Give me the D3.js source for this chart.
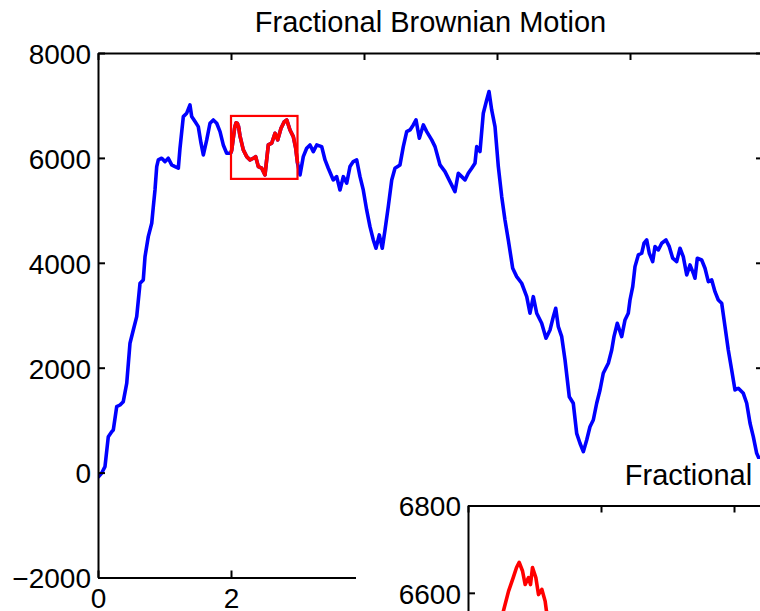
<!DOCTYPE html>
<html>
<head>
<meta charset="utf-8">
<script src="https://cdn.jsdelivr.net/npm/d3@7"></script>
<style>
  html, body { margin: 0; padding: 0; background: #fff; }
  svg { display: block; font-family: "Liberation Sans", Arial, Helvetica, sans-serif; }
  .axis path, .axis line { stroke: #000; stroke-width: 2; }
  .axis text { font-size: 28px; fill: #000; font-family: "Liberation Sans", Arial, sans-serif; }
</style>
</head>
<body>
<svg id="fig" width="760" height="611"></svg>
<script>
// Sample path of fractional Brownian motion, split into three stretches
// around the window [2, 3] that is magnified in the inset.
const leadTime  = [0.000, 0.056, 0.105, 0.155, 0.206, 0.230, 0.281, 0.331, 0.380, 0.432, 0.481, 0.531, 0.582, 0.632, 0.681, 0.707, 0.756, 0.808, 0.832, 0.857, 0.883, 0.907, 0.958, 1.008, 1.057, 1.108, 1.158, 1.208, 1.233, 1.283, 1.334, 1.383, 1.409, 1.459, 1.508, 1.549, 1.584, 1.635, 1.684, 1.734, 1.785, 1.835, 1.884, 1.935, 1.985];
const leadValue = [-90, -8, 113, 685, 780, 812, 1257, 1289, 1352, 1703, 2466, 2719, 2973, 3610, 3673, 4117, 4499, 4754, 5071, 5389, 5834, 5961, 5994, 5929, 5994, 5866, 5833, 5803, 6184, 6787, 6852, 7010, 6787, 6692, 6596, 6280, 6057, 6343, 6661, 6724, 6661, 6501, 6247, 6089, 6089];

const windowTime  = [2.000, 2.011, 2.053, 2.061, 2.068, 2.073, 2.077, 2.082, 2.086, 2.091, 2.094, 2.097, 2.102, 2.106, 2.111, 2.116, 2.118, 2.135, 2.185, 2.236, 2.286, 2.335, 2.371, 2.411, 2.462, 2.511, 2.561, 2.612, 2.662, 2.702, 2.752, 2.802, 2.838, 2.887, 2.937, 2.973, 3.000];
const windowValue = [6100, 6150, 6557, 6604, 6635, 6658, 6670, 6650, 6619, 6635, 6619, 6658, 6635, 6596, 6608, 6581, 6558, 6420, 6152, 6024, 5961, 5994, 6024, 5833, 5803, 5675, 6247, 6280, 6470, 6343, 6566, 6692, 6724, 6533, 6406, 6184, 5900];

const tailTime  = [3.038, 3.087, 3.138, 3.188, 3.238, 3.289, 3.364, 3.414, 3.463, 3.538, 3.589, 3.639, 3.689, 3.740, 3.789, 3.839, 3.890, 3.940, 3.989, 4.040, 4.090, 4.140, 4.180, 4.230, 4.275, 4.316, 4.365, 4.417, 4.466, 4.541, 4.591, 4.642, 4.692, 4.741, 4.782, 4.832, 4.892, 4.943, 5.018, 5.068, 5.143, 5.218, 5.293, 5.368, 5.418, 5.469, 5.519, 5.568, 5.620, 5.669, 5.695, 5.744, 5.794, 5.845, 5.880, 5.920, 5.970, 6.020, 6.071, 6.120, 6.170, 6.236, 6.296, 6.371, 6.447, 6.496, 6.546, 6.597, 6.672, 6.737, 6.797, 6.847, 6.883, 6.922, 6.973, 7.023, 7.087, 7.147, 7.198, 7.248, 7.298, 7.349, 7.398, 7.448, 7.499, 7.549, 7.598, 7.674, 7.725, 7.759, 7.809, 7.875, 7.925, 7.974, 8.000, 8.041, 8.075, 8.125, 8.176, 8.211, 8.251, 8.290, 8.341, 8.376, 8.426, 8.477, 8.541, 8.591, 8.642, 8.702, 8.752, 8.801, 8.853, 8.902, 8.952, 8.977, 9.012, 9.078, 9.128, 9.178, 9.229, 9.278, 9.328, 9.379, 9.429, 9.478, 9.529, 9.579, 9.629, 9.704, 9.755, 9.805, 9.854, 9.905, 9.985];
const tailValue = [5675, 6024, 6184, 6247, 6120, 6247, 6215, 5961, 5803, 5580, 5643, 5389, 5643, 5517, 5834, 5929, 5961, 5643, 5389, 5008, 4689, 4436, 4277, 4531, 4277, 4626, 5071, 5580, 5803, 5866, 6215, 6501, 6533, 6629, 6724, 6375, 6629, 6501, 6343, 6215, 5866, 5738, 5547, 5357, 5708, 5643, 5580, 5708, 5803, 5898, 6215, 6120, 6852, 7105, 7264, 6915, 6596, 5834, 5261, 4817, 4436, 3896, 3736, 3610, 3354, 3038, 3354, 3038, 2847, 2561, 2719, 2973, 3133, 2782, 2592, 2147, 1447, 1322, 749, 559, 399, 622, 875, 1003, 1322, 1575, 1894, 2084, 2338, 2592, 2847, 2592, 2910, 3038, 3291, 3545, 3927, 4150, 4182, 4373, 4436, 4182, 4022, 4308, 4245, 4373, 4436, 4308, 4087, 4022, 4277, 4117, 3768, 3959, 3801, 3705, 4087, 4054, 3896, 3641, 3673, 3450, 3291, 3229, 2782, 2338, 1957, 1575, 1608, 1512, 1322, 940, 685, 368, 145];

// Axis ranges and tick values
const mainTimeDomain  = [0, 10];
const mainValueDomain = [-2000, 8000];
const mainValueTicks  = [-2000, 0, 2000, 4000, 6000, 8000];
const mainTimeTicks   = [0, 2, 4, 6, 8, 10];
const zoomTimeDomain  = [2, 3];
const zoomValueDomain = [5600, 6800];
const zoomValueTicks  = [5600, 5800, 6000, 6200, 6400, 6600, 6800];
const zoomTimeTicks   = [2, 2.2, 2.4, 2.6, 2.8, 3];
const chartTitle = "Fractional Brownian Motion";

const toPoints = (ts, vs) => ts.map((t, i) => ({ t, v: vs[i] }));
const fullPath = toPoints(leadTime.concat(windowTime, tailTime), leadValue.concat(windowValue, tailValue));
const windowPath = toPoints(windowTime, windowValue);

const svg = d3.select("#fig");
const fmt = d3.format("");

// Draws one boxed set of axes with a title, ticks pointing inward on all four sides.
function drawAxes(g, x, y, xTicks, yTicks, xFmt, yFmt) {
  const [x0, x1] = x.range();
  const [y0, y1] = y.range(); // y0 bottom, y1 top
  g.append("g").attr("class", "axis").attr("transform", `translate(0,${y0})`)
    .call(d3.axisBottom(x).tickValues(xTicks).tickFormat(xFmt).tickSizeInner(-7).tickSizeOuter(0).tickPadding(11));
  g.append("g").attr("class", "axis").attr("transform", `translate(0,${y1})`)
    .call(d3.axisTop(x).tickValues(xTicks).tickFormat("").tickSizeInner(-7).tickSizeOuter(0));
  g.append("g").attr("class", "axis").attr("transform", `translate(${x0},0)`)
    .call(d3.axisLeft(y).tickValues(yTicks).tickFormat(yFmt).tickSizeInner(-7).tickSizeOuter(0).tickPadding(7));
  g.append("g").attr("class", "axis").attr("transform", `translate(${x1},0)`)
    .call(d3.axisRight(y).tickValues(yTicks).tickFormat("").tickSizeInner(-7).tickSizeOuter(0));
  g.selectAll(".axis text").attr("font-size", 28);
  g.selectAll(".axis .tick text").filter(function () { return this.getAttribute("x") !== null && +this.getAttribute("x") < 0; })
    .attr("dy", "0.37em");
  g.append("text")
    .attr("x", (x0 + x1) / 2).attr("y", y1 - 21)
    .attr("text-anchor", "middle")
    .attr("font-size", 29)
    .text(chartTitle);
}

// ---- Main axes ----
const mx = d3.scaleLinear().domain(mainTimeDomain).range([98, 763]);
const my = d3.scaleLinear().domain(mainValueDomain).range([577.5, 53]);
const main = svg.append("g");

svg.append("defs").append("clipPath").attr("id", "mainClip")
  .append("rect").attr("x", 98).attr("y", 53).attr("width", 665).attr("height", 524.5);

const mainLine = d3.line().x(d => mx(d.t)).y(d => my(d.v));
const plot = main.append("g").attr("clip-path", "url(#mainClip)");
plot.append("path").datum(fullPath)
  .attr("d", mainLine).attr("fill", "none").attr("stroke", "#0000ff")
  .attr("stroke-width", 3.6).attr("stroke-linejoin", "round");
plot.append("path").datum(windowPath)
  .attr("d", mainLine).attr("fill", "none").attr("stroke", "#ff0000")
  .attr("stroke-width", 3.6).attr("stroke-linejoin", "round");
// outline of the magnified window
plot.append("rect")
  .attr("x", mx(zoomTimeDomain[0])).attr("y", my(zoomValueDomain[1]))
  .attr("width", mx(zoomTimeDomain[1]) - mx(zoomTimeDomain[0]))
  .attr("height", my(zoomValueDomain[0]) - my(zoomValueDomain[1]))
  .attr("fill", "none").attr("stroke", "#ff0000").attr("stroke-width", 2.2);

drawAxes(main, mx, my, mainTimeTicks, mainValueTicks, fmt, d3.format(""));

// ---- Inset: magnified window, placed on its own white panel ----
svg.append("rect").attr("x", 356).attr("y", 459).attr("width", 420).attr("height", 160).attr("fill", "#fff");

const ix = d3.scaleLinear().domain(zoomTimeDomain).range([468, 1133]);
const iy = d3.scaleLinear().domain(zoomValueDomain).range([1029.5, 505.5]);
const inset = svg.append("g");
svg.select("defs").append("clipPath").attr("id", "insetClip")
  .append("rect").attr("x", 468).attr("y", 505.5).attr("width", 665).attr("height", 524);

const insetLine = d3.line().x(d => ix(d.t)).y(d => iy(d.v));
inset.append("g").attr("clip-path", "url(#insetClip)")
  .append("path").datum(windowPath)
  .attr("d", insetLine).attr("fill", "none").attr("stroke", "#ff0000")
  .attr("stroke-width", 3.6).attr("stroke-linejoin", "round");

drawAxes(inset, ix, iy, zoomTimeTicks, zoomValueTicks, d3.format(""), d3.format(""));
</script>
</body>
</html>
